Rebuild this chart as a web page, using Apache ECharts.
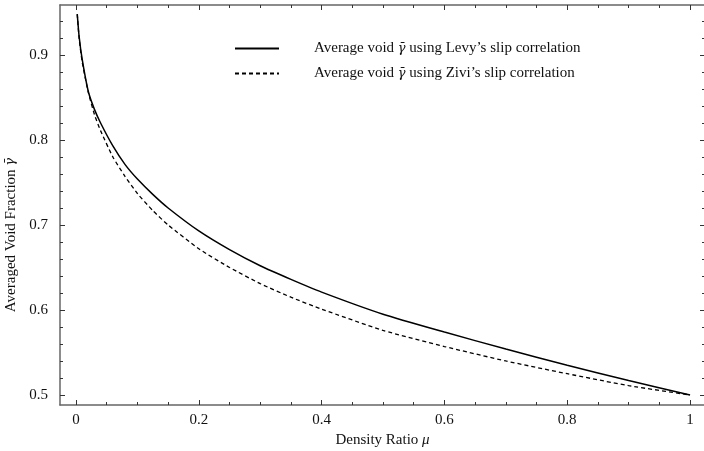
<!DOCTYPE html>
<html>
<head>
<meta charset="utf-8">
<script src="https://cdn.jsdelivr.net/npm/echarts@6/dist/echarts.min.js"></script>
<style>
  html, body { margin: 0; padding: 0; background: #fff; }
  #main { width: 704px; height: 451px; }
</style>
</head>
<body>
<div id="main"></div>
<script>
// density ratio mu (x) and averaged void fraction readings (y)
var muValues = [0.002, 0.005, 0.01, 0.02, 0.03, 0.04, 0.06, 0.08, 0.1, 0.125, 0.15, 0.2, 0.25, 0.3, 0.35, 0.4, 0.5, 0.6, 0.7, 0.8, 0.9, 1.0];
var levyVoid = [0.948, 0.922, 0.895, 0.857, 0.836, 0.820, 0.793, 0.771, 0.754, 0.736, 0.720, 0.693, 0.671, 0.652, 0.636, 0.621, 0.595, 0.574, 0.554, 0.535, 0.517, 0.500];
var ziviVoid = [0.948, 0.920, 0.892, 0.856, 0.830, 0.811, 0.780, 0.757, 0.737, 0.717, 0.700, 0.672, 0.650, 0.631, 0.615, 0.601, 0.576, 0.557, 0.540, 0.525, 0.511, 0.500];

var xMajorTicks = [0, 0.2, 0.4, 0.6, 0.8, 1];
var xMinorTicks = [0.05, 0.1, 0.15, 0.25, 0.3, 0.35, 0.45, 0.5, 0.55, 0.65, 0.7, 0.75, 0.85, 0.9, 0.95];
var yMajorTicks = [0.5, 0.6, 0.7, 0.8, 0.9];
var yMinorTicks = [0.52, 0.54, 0.56, 0.58, 0.62, 0.64, 0.66, 0.68, 0.72, 0.74, 0.76, 0.78, 0.82, 0.84, 0.86, 0.88, 0.92, 0.94];

var levyName = 'Average void {i|γ̄} using Levy\u2019s slip correlation';
var ziviName = 'Average void {i|γ̄} using Zivi\u2019s slip correlation';

var font = 'Liberation Serif';
var xMin = -0.0261, xMax = 1.0244;
var yMin = 0.4882, yMax = 0.9588;

var italic = { fontFamily: 'DejaVu Serif', fontSize: 13, fontStyle: 'italic', color: '#111' };

function pairs(xs, ys) {
  return xs.map(function (x, i) { return [x, ys[i]]; });
}

function fmt(v) {
  return String(Math.round(v * 10) / 10);
}

function axis(dim, position, ticks, len, withLine, withLabel) {
  var a = {
    type: 'value',
    position: position,
    min: dim === 'x' ? xMin : yMin,
    max: dim === 'x' ? xMax : yMax,
    splitLine: { show: false },
    axisLine: { show: withLine, onZero: false, lineStyle: { color: '#666', width: 1.5 } },
    axisTick: { show: true, inside: true, length: len, customValues: ticks, lineStyle: { color: '#333', width: 1 } },
    axisLabel: { show: false }
  };
  if (withLabel) {
    a.axisLabel = {
      show: true, customValues: ticks, formatter: fmt,
      fontFamily: font, fontSize: 15, color: '#111', margin: dim === 'x' ? 8 : 12
    };
  }
  return a;
}

var xBottom = axis('x', 'bottom', xMajorTicks, 5, true, true);
xBottom.name = 'Density Ratio {i|μ}';
xBottom.nameLocation = 'middle';
xBottom.nameGap = 17;
xBottom.nameTextStyle = {
  fontFamily: font, fontSize: 15, color: '#111',
  rich: { i: { fontFamily: font, fontSize: 15, fontStyle: 'italic', color: '#111' } }
};

var yLeft = axis('y', 'left', yMajorTicks, 5, true, true);
yLeft.name = 'Averaged Void Fraction {i|γ̄}';
yLeft.nameLocation = 'middle';
yLeft.nameGap = 38;
yLeft.nameTextStyle = {
  fontFamily: font, fontSize: 15, color: '#111',
  padding: [0, 60, 0, 0],
  rich: { i: italic }
};

var option = {
  animation: false,
  backgroundColor: '#fff',
  grid: { left: 60, right: -1, top: 5, bottom: 46, containLabel: false, outerBoundsMode: 'none' },
  legend: {
    orient: 'vertical',
    left: 229,
    top: 36,
    itemWidth: 44,
    itemHeight: 14,
    itemGap: 10,
    itemStyle: { opacity: 0 },
    textStyle: {
      fontFamily: font, fontSize: 15, color: '#111',
      padding: [0, 0, 0, 30],
      rich: { i: italic }
    },
    data: [levyName, ziviName]
  },
  xAxis: [
    xBottom,
    axis('x', 'bottom', xMinorTicks, 3, false, false),
    axis('x', 'top', xMajorTicks, 5, true, false),
    axis('x', 'top', xMinorTicks, 3, false, false)
  ],
  yAxis: [
    yLeft,
    axis('y', 'left', yMinorTicks, 3, false, false),
    axis('y', 'right', yMajorTicks, 5, true, false),
    axis('y', 'right', yMinorTicks, 3, false, false)
  ],
  series: [
    {
      name: levyName,
      type: 'line',
      xAxisIndex: 0, yAxisIndex: 0,
      smooth: 0.2,
      symbol: 'none',
      lineStyle: { color: '#000', width: 1.5 },
      itemStyle: { color: '#000' },
      data: pairs(muValues, levyVoid)
    },
    {
      name: ziviName,
      type: 'line',
      xAxisIndex: 0, yAxisIndex: 0,
      smooth: 0.2,
      symbol: 'none',
      lineStyle: { color: '#000', width: 1.3, type: [4, 3] },
      itemStyle: { color: '#000' },
      data: pairs(muValues, ziviVoid)
    }
  ]
};

var chart = echarts.init(document.getElementById('main'));
chart.setOption(option);
</script>
</body>
</html>
